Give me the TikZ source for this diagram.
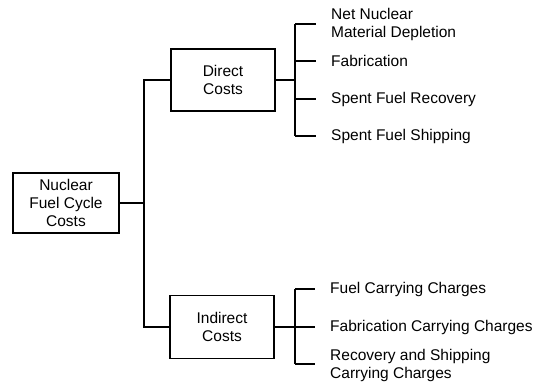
\documentclass[tikz,border=0pt]{standalone}
\usepackage{fontspec}
\setmainfont{Liberation Sans}
\begin{document}
\begin{tikzpicture}[x=1pt,y=-1pt,
  every node/.style={font=\fontsize{15.5}{18}\selectfont},
  box/.style={draw,line width=1.4pt,align=center,inner sep=0pt},
  lbl/.style={anchor=west,align=left,inner sep=0pt},
  conn/.style={line width=1.4pt},
  leaf/.style={line width=1.4pt,shorten >=15pt}]
\useasboundingbox (0,0) rectangle (537,385);
\node[box,minimum width=106pt,minimum height=60pt] (root) at (66,203) {Nuclear\\Fuel Cycle\\Costs};
\node[box,minimum width=104pt,minimum height=62pt] (direct) at (223,80) {Direct\\Costs};
\node[box,minimum width=104pt,minimum height=63pt] (indirect) at (222,327) {Indirect\\Costs};
% trunk
\coordinate (t0) at (144,203);
\coordinate (t1) at (144,80);
\coordinate (t2) at (144,327);
\draw[conn] (root.east) -- (t0);
\draw[conn] (direct.west) -- (t1) -- (t2) -- (indirect.west);
% direct branch
\coordinate (d0) at (295,80);
\coordinate (d1) at (295,24);
\coordinate (d2) at (295,61);
\coordinate (d3) at (295,99);
\coordinate (d4) at (295,136);
\draw[conn] (direct.east) -- (d0);
\draw[conn] (d1) -- (d4);
\node[lbl] (l1) at (331,24) {Net Nuclear\\Material Depletion};
\node[lbl] (l2) at (331,61) {Fabrication};
\node[lbl] (l3) at (331,99) {Spent Fuel Recovery};
\node[lbl] (l4) at (331,136) {Spent Fuel Shipping};
\draw[leaf] (d1) -- (l1.west);
\draw[leaf] (d2) -- (l2.west);
\draw[leaf] (d3) -- (l3.west);
\draw[leaf] (d4) -- (l4.west);
% indirect branch
\coordinate (i0) at (295,327);
\coordinate (i1) at (295,289);
\coordinate (i3) at (295,364);
\draw[conn] (indirect.east) -- (i0);
\draw[conn] (i1) -- (i3);
\node[lbl] (m1) at (330,289) {Fuel Carrying Charges};
\node[lbl] (m2) at (330,327) {Fabrication Carrying Charges};
\node[lbl] (m3) at (330,365) {Recovery and Shipping\\Carrying Charges};
\draw[leaf] (i1) -- (m1.west);
\draw[leaf] (i0) -- (m2.west);
\draw[leaf] (i3) -- (m3.west |- i3);
\end{tikzpicture}
\end{document}
